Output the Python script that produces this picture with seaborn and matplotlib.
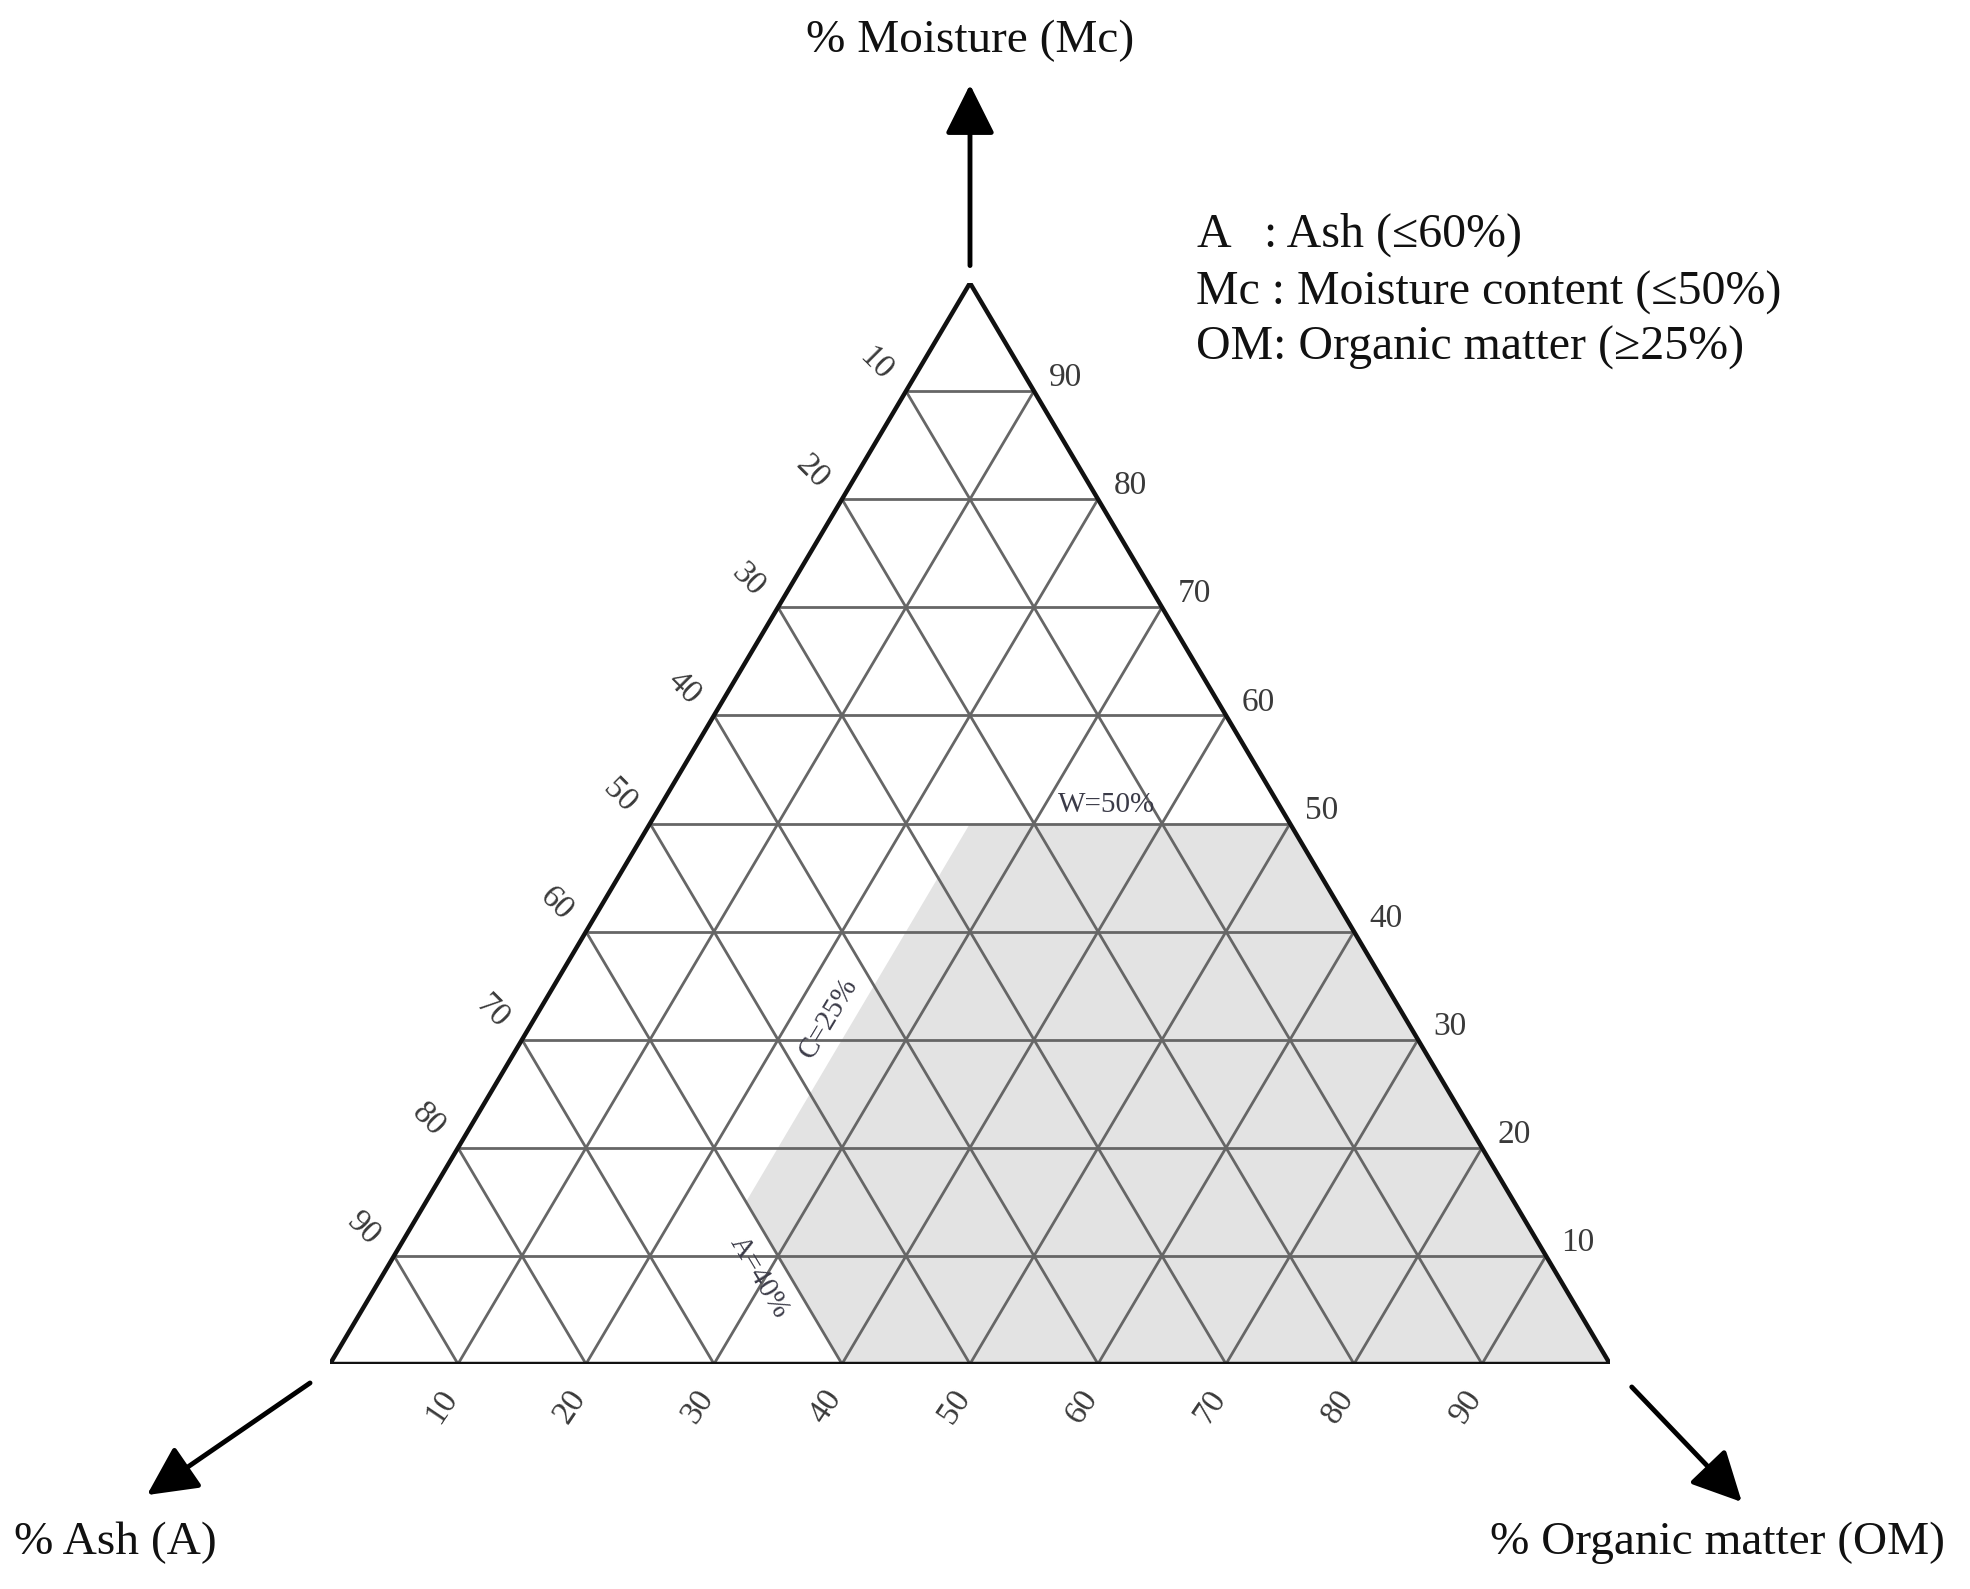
import numpy as np
import pandas as pd
import matplotlib
matplotlib.use('Agg')
import matplotlib.pyplot as plt
import seaborn as sns

# ternary grid values (%)
ticks = [10, 20, 30, 40, 50, 60, 70, 80, 90]
left_labels = [str(t) for t in ticks]          # % Ash along left side
right_labels = [str(t) for t in ticks]         # % Moisture along right side
bottom_labels = [str(t) for t in ticks]        # % Organic matter along bottom

# accepted region: Ash <= 60, Mc <= 50, OM >= 25
region_ash = [60, 0, 0, 25, 60]
region_mc = [0, 0, 50, 50, 15]
region_om = [40, 100, 50, 25, 25]

legend_keys = ['A', 'Mc : Moisture content (≤50%)', 'OM: Organic matter (≥25%)']
legend_ash = ': Ash (≤60%)'

H = np.sqrt(3) / 2 * 100


def tern(mc, om):
    mc = np.asarray(mc, dtype=float)
    om = np.asarray(om, dtype=float)
    return om + mc / 2, mc * np.sqrt(3) / 2


sns.set_theme(style='white')
plt.rcParams['font.family'] = ['Liberation Serif', 'DejaVu Serif']

fig = plt.figure(figsize=(19.7, 15.89), dpi=100)
ax = fig.add_axes([330 / 1970, (1589 - 1364) / 1589, 1280 / 1970, 1081 / 1589])

# shaded region
rx, ry = tern(region_mc, region_om)
ax.fill(rx, ry, color='#e3e3e3', zorder=1, lw=0)

# grid segments
rows = []
seg = 0
for k in ticks:
    # moisture constant
    for mc, om in [(k, 0), (k, 100 - k)]:
        x, y = tern(mc, om)
        rows.append((seg, float(x), float(y)))
    seg += 1
    # organic matter constant
    for mc, om in [(0, k), (100 - k, k)]:
        x, y = tern(mc, om)
        rows.append((seg, float(x), float(y)))
    seg += 1
    # ash constant
    for mc, om in [(0, 100 - k), (100 - k, 0)]:
        x, y = tern(mc, om)
        rows.append((seg, float(x), float(y)))
    seg += 1
grid = pd.DataFrame(rows, columns=['seg', 'x', 'y'])
sns.lineplot(data=grid, x='x', y='y', units='seg', estimator=None, sort=False,
             color='#666666', lw=2.0, ax=ax, zorder=2)

# outer triangle
ox, oy = tern([0, 0, 100, 0], [0, 100, 0, 0])
ax.plot(ox, oy, color='#111111', lw=3.2, zorder=3, solid_joinstyle='miter')

ax.set_xlim(0, 100)
ax.set_ylim(0, H)
ax.set_axis_off()

tick_kw = dict(fontsize=24, color='#3a3a3a', ha='center', va='center', clip_on=False)
for k, lab in zip(ticks, left_labels):
    x, y = tern(100 - k, 0)
    ax.text(x - 2.35, y + 2.2, lab, rotation=-45, **tick_kw)
for k, lab in zip(ticks, right_labels):
    x, y = tern(k, 100 - k)
    ax.text(x + 2.5, y + 1.05, lab, rotation=0, **tick_kw)
for k, lab in zip(ticks, bottom_labels):
    x, y = tern(0, k)
    ax.text(x - 1.25, y - 3.4, lab, rotation=56, **tick_kw)

# limit labels
note_kw = dict(fontsize=21, color='#3b3b48', ha='center', va='center', clip_on=False)
x, y = tern(50, 35.7)
ax.text(x, y + 1.5, 'W=50%', **note_kw)
x, y = tern(32, 25)
ax.text(x - 2.0, y, 'C=25%', rotation=59, **note_kw)
x, y = tern(8, 32)
ax.text(x - 2.5, y, 'A=40%', rotation=-59, **note_kw)

# axis arrows
arrow = dict(arrowstyle='-|>,head_length=0.9,head_width=0.45', lw=3.5,
             color='black', mutation_scale=34, shrinkA=0, shrinkB=0)
ax.annotate('', xy=(50, 102.5), xytext=(50, 88.0), arrowprops=arrow, annotation_clip=False)
ax.annotate('', xy=(-14.3, -10.5), xytext=(-1.56, -1.52), arrowprops=arrow, annotation_clip=False)
ax.annotate('', xy=(110.3, -11.06), xytext=(101.7, -1.84), arrowprops=arrow, annotation_clip=False)

lab_kw = dict(fontsize=34, color='#111111', va='center', clip_on=False)
ax.text(50, 106.0, '% Moisture (Mc)', ha='center', **lab_kw)
ax.text(-16.8, -14.34, '% Ash (A)', ha='center', **lab_kw)
ax.text(108.4, -14.34, '% Organic matter (OM)', ha='center', **lab_kw)

# legend text
leg_kw = dict(fontsize=34.5, color='#111111', va='center', clip_on=False)
ys = [90.45, 85.8, 81.4]
ax.text(67.66, ys[0], legend_keys[0], ha='left', **leg_kw)
ax.text(73.0, ys[0], legend_ash, ha='left', **leg_kw)
ax.text(67.66, ys[1], legend_keys[1], ha='left', **leg_kw)
ax.text(67.66, ys[2], legend_keys[2], ha='left', **leg_kw)

fig.savefig('out.png', dpi=100, facecolor='white')
